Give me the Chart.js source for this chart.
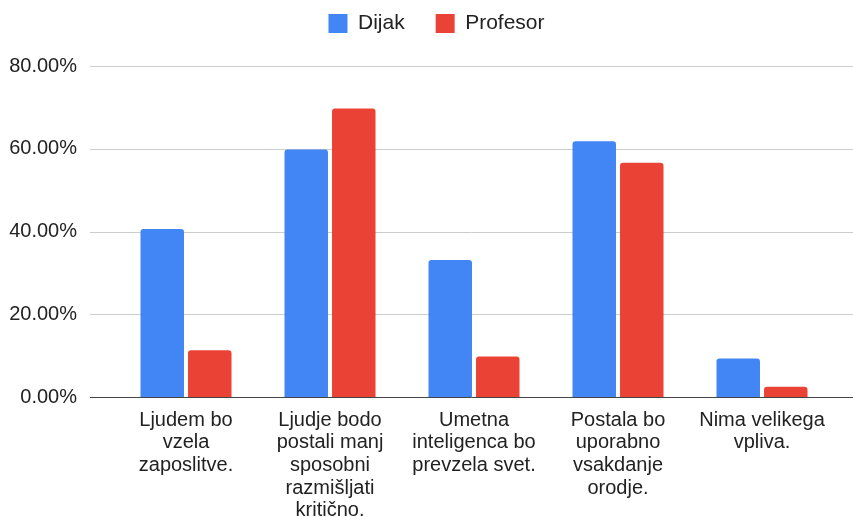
<!DOCTYPE html>
<html lang="sl">
  <head>
    <meta charset="UTF-8" />
    <title>Dijak / Profesor</title>
    <script src="https://cdn.jsdelivr.net/npm/chart.js@4.4.1/dist/chart.umd.min.js"></script>
    <style>
      html, body { margin: 0; padding: 0; background: #fff; }
      #wrap { width: 853px; height: 517px; }
    </style>
  </head>
  <body>
    <div id="wrap"><canvas id="chart" width="853" height="517"></canvas></div>
    <script>
      // data
      const categories = [
        ["Ljudem bo", "vzela", "zaposlitve."],
        ["Ljudje bodo", "postali manj", "sposobni", "razmišljati", "kritično."],
        ["Umetna", "inteligenca bo", "prevzela svet."],
        ["Postala bo", "uporabno", "vsakdanje", "orodje."],
        ["Nima velikega", "vpliva."]
      ];
      const dijak = [40.6, 59.8, 33.1, 61.8, 9.3];
      const profesor = [11.3, 69.7, 9.8, 56.6, 2.5];
      const yTicks = [0, 20, 40, 60, 80];

      Chart.defaults.font.family = "'Liberation Sans', Arial, sans-serif";
      Chart.defaults.font.size = 20;
      Chart.defaults.color = "#222";

      // horizontal gridlines run wider than the category area
      const fullGrid = {
        id: "fullGrid",
        afterLayout(chart) {
          // legend sits a bit higher and to the right in the original
          const lg = chart.legend;
          lg.left += 19.5;
          lg.right += 19.5;
          lg.top -= 22;
          lg.bottom -= 22;
        },
        beforeDatasetsDraw(chart) {
          const ctx = chart.ctx;
          const y = chart.scales.y;
          ctx.save();
          ctx.lineWidth = 1;
          y.ticks.forEach((t) => {
            const py = Math.round(y.getPixelForValue(t.value)) + 0.5;
            ctx.strokeStyle = t.value === 0 ? "#444" : "#cccccc";
            ctx.beginPath();
            ctx.moveTo(90, py);
            ctx.lineTo(chart.width, py);
            ctx.stroke();
          });
          ctx.restore();
        },
      };

      new Chart(document.getElementById("chart"), {
        type: "bar",
        data: {
          labels: categories,
          datasets: [
            {
              label: "Dijak",
              data: dijak,
              backgroundColor: "#4285f4",
              borderRadius: 3,
              categoryPercentage: 0.66,
              barPercentage: 0.915,
            },
            {
              label: "Profesor",
              data: profesor,
              backgroundColor: "#ea4335",
              borderRadius: 3,
              categoryPercentage: 0.66,
              barPercentage: 0.915,
            },
          ],
        },
        options: {
          responsive: false,
          animation: false,
          layout: { padding: { top: 0, right: 19, left: 0, bottom: 0 } },
          plugins: {
            tooltip: { enabled: false },
            legend: {
              position: "top",
              labels: {
                boxWidth: 19,
                boxHeight: 19,
                padding: 31,
                color: "#222",
                font: { size: 21 },
              },
            },
          },
          scales: {
            x: {
              grid: { display: false },
              border: { display: false },
              ticks: {
                maxRotation: 0,
                autoSkip: false,
                padding: 4,
                font: { size: 20, lineHeight: 1.13 },
              },
              afterFit(scale) {
                scale.height = 120;
              },
            },
            y: {
              min: 0,
              max: 80,
              grid: { display: false, drawTicks: false },
              border: { display: false },
              afterBuildTicks(scale) {
                scale.ticks = yTicks.map((v) => ({ value: v }));
              },
              ticks: {
                padding: 37,
                font: { size: 20 },
                callback: (v) => v.toFixed(2) + "%",
              },
              afterFit(scale) {
                scale.width = 114;
                scale.paddingTop = 66;
              },
            },
          },
        },
        plugins: [fullGrid],
      });
    </script>
  </body>
</html>
